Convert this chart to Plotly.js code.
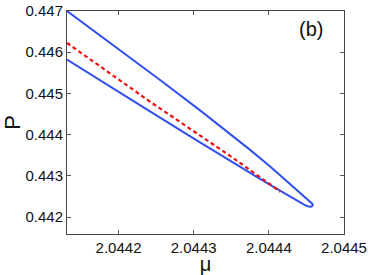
<!DOCTYPE html>
<html>
<head>
<meta charset="utf-8">
<script src="https://cdn.plot.ly/plotly-3.0.1.min.js"></script>
<style>html,body{margin:0;padding:0;background:#fff;}#chart{width:370px;height:275px;}</style>
</head>
<body>
<div id="chart"></div>
<script>
// Closed blue curve (upper branch then lower branch)
const blueMu = [2.0441314, 2.0441891, 2.0442557, 2.0443089, 2.0443489, 2.0443755, 2.0444021, 2.0444288, 2.0444421, 2.0444501, 2.0444547, 2.0444574, 2.0444585, 2.0444578, 2.0444561, 2.0444527, 2.0444487, 2.0444421, 2.0444288, 2.0444154, 2.0443888, 2.0443644, 2.0443089, 2.0442370, 2.0441758, 2.0441314];
const blueP  = [0.447000, 0.446228, 0.445322, 0.444584, 0.444015, 0.443627, 0.443225, 0.442804, 0.442586, 0.442450, 0.442373, 0.442332, 0.442300, 0.442271, 0.442254, 0.442257, 0.442290, 0.442363, 0.442499, 0.442639, 0.442925, 0.443191, 0.443806, 0.444622, 0.445317, 0.445823];
// Red dashed curve
const redMu = [2.0441314, 2.0442423, 2.0443489, 2.0444154];
const redP  = [0.446225, 0.444797, 0.443482, 0.442618];
const xTicks = [2.0442, 2.0443, 2.0444, 2.0445];
const yTicks = [0.442, 0.443, 0.444, 0.445, 0.446, 0.447];

const font = "'Liberation Sans', Arial, Helvetica, sans-serif";
const data = [
  {x: blueMu, y: blueP, mode: 'lines', line: {color: '#3050F0', width: 2}, hoverinfo: 'skip'},
  {x: redMu, y: redP, mode: 'lines', line: {color: '#EE1111', width: 2.2, dash: '4px,3px'}, hoverinfo: 'skip'}
];
const axisCommon = {
  showgrid: false, zeroline: false, ticks: 'inside', ticklen: 4, tickcolor: '#555',
  showline: true, linecolor: '#444', linewidth: 1, mirror: 'ticks',
  tickfont: {family: font, size: 15, color: '#111'}
};
const layout = {
  width: 370, height: 275,
  margin: {l: 67, r: 26, t: 11, b: 41},
  paper_bgcolor: '#fff', plot_bgcolor: '#fff',
  showlegend: false,
  xaxis: Object.assign({}, axisCommon, {
    range: [2.0441314, 2.0445], tickvals: xTicks, ticktext: xTicks.map(v => v.toFixed(4)),
    title: {text: 'μ', font: {family: font, size: 20, color: '#111'}, standoff: 4}
  }),
  yaxis: Object.assign({}, axisCommon, {
    range: [0.441593, 0.447], tickvals: yTicks, ticktext: yTicks.map(v => v.toFixed(3)),
    title: {text: 'P', font: {family: font, size: 22, color: '#111'}, standoff: 6}
  }),
  annotations: [{
    x: 0.93, y: 0.92, xref: 'paper', yref: 'paper', text: '(b)', showarrow: false,
    font: {family: font, size: 20, color: '#111'}, xanchor: 'right', yanchor: 'middle'
  }]
};
Plotly.newPlot('chart', data, layout, {staticPlot: true, displayModeBar: false});
</script>
</body>
</html>
